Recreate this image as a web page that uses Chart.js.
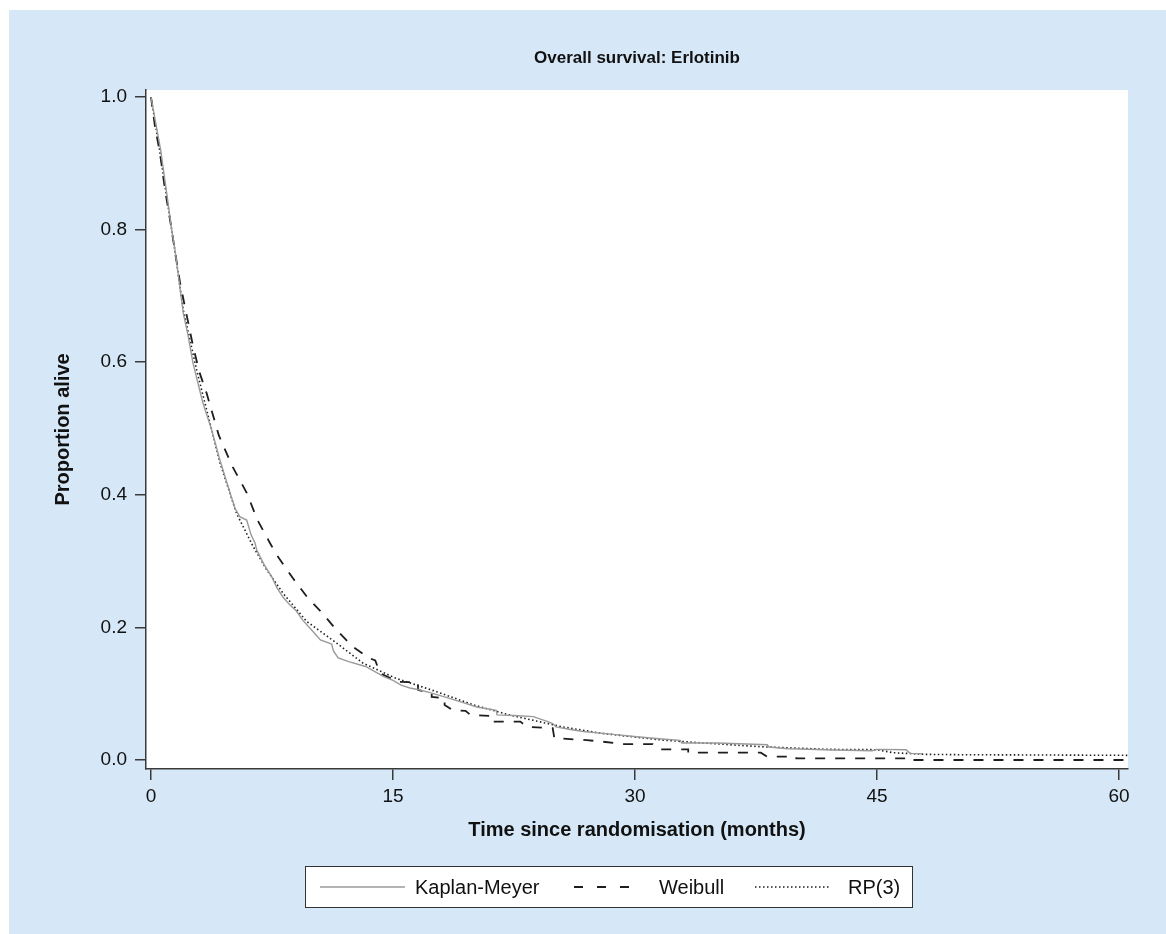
<!DOCTYPE html>
<html>
<head>
<meta charset="utf-8">
<script src="https://cdn.jsdelivr.net/npm/chart.js@4.4.1/dist/chart.umd.min.js"></script>
<style>
  html, body { margin: 0; padding: 0; background: #fff; }
  #wrap { width: 1166px; height: 934px; position: relative; }
</style>
</head>
<body>
<div id="wrap"><canvas id="c" width="1166" height="934"></canvas></div>
<script>
// values
const xTicks = [0, 15, 30, 45, 60];
const yTicks = [0, 0.2, 0.4, 0.6, 0.8, 1.0];

const kmTime = [0, 0.3, 0.6, 1.0, 1.28, 1.49, 2.0, 2.3, 2.6, 3.2, 3.76, 4.3, 4.9, 5.2, 5.5, 5.93, 6.2, 6.45, 6.55, 7.0, 7.48, 7.8, 8.2, 8.6, 9.0, 9.4, 10.0, 10.5, 11.2, 11.3, 11.6, 12.3, 13.3, 14.4, 15.0, 15.5, 16.05, 16.6, 17.3, 18.5, 19.3, 20.2, 21.4, 21.45, 22.5, 23.7, 24.6, 24.9, 25.1, 26.0, 26.8, 28.5, 30.1, 31.5, 32.8, 32.9, 35.1, 38.2, 38.3, 39.5, 40.2, 42.3, 44.7, 45.0, 46.8, 47.05, 47.8];
const kmSurv = [1.0, 0.96, 0.92, 0.85, 0.80, 0.769, 0.674, 0.64, 0.599, 0.54, 0.498, 0.45, 0.403, 0.38, 0.367, 0.362, 0.34, 0.327, 0.317, 0.295, 0.2765, 0.26, 0.245, 0.234, 0.225, 0.211, 0.195, 0.181, 0.175, 0.165, 0.154, 0.148, 0.141, 0.126, 0.12, 0.113, 0.1086, 0.106, 0.1015, 0.093, 0.087, 0.080, 0.075, 0.068, 0.067, 0.0654, 0.058, 0.055, 0.05, 0.046, 0.043, 0.039, 0.035, 0.032, 0.0296, 0.0256, 0.0256, 0.023, 0.0196, 0.017, 0.0165, 0.015, 0.014, 0.016, 0.0155, 0.010, 0.0095];

const wbTime = [0, 0.25, 0.56, 0.87, 1.18, 1.5, 1.8, 2.1, 2.6, 3.0, 3.45, 4.2, 5.0, 5.93, 6.6, 7.38, 7.8, 8.8, 9.7, 10.6, 11.5, 12.5, 13.5, 13.9, 14.2, 15.3, 16.55, 16.55, 17.4, 17.4, 18.2, 18.2, 18.7, 19.5, 19.8, 21.3, 21.3, 22.9, 23.3, 24.9, 25.0, 27.0, 28.0, 29.3, 31.1, 31.5, 33.3, 33.3, 37.8, 38.2, 40.0, 40.0, 46.9, 46.9, 60.5];
const wbSurv = [1.0, 0.955, 0.915, 0.86, 0.815, 0.765, 0.72, 0.684, 0.625, 0.585, 0.553, 0.49, 0.445, 0.403, 0.362, 0.327, 0.309, 0.274, 0.245, 0.222, 0.196, 0.171, 0.154, 0.15, 0.131, 0.118, 0.117, 0.106, 0.1, 0.095, 0.093, 0.083, 0.0754, 0.074, 0.068, 0.066, 0.0578, 0.0578, 0.05, 0.048, 0.033, 0.03, 0.0276, 0.024, 0.024, 0.016, 0.016, 0.011, 0.011, 0.005, 0.005, 0.0025, 0.0025, 0.0, 0.0];

const rpTime = [0, 0.5, 1.0, 1.5, 2.0, 2.83, 3.45, 4.28, 5.3, 6.33, 7.17, 8.2, 9.65, 11.3, 13.15, 15.2, 17.7, 20.0, 22.2, 25.5, 28.0, 31.7, 34.0, 37.8, 42.0, 45.0, 46.0, 48.0, 50.0, 60.6];
const rpSurv = [1.0, 0.925, 0.845, 0.765, 0.679, 0.588, 0.528, 0.448, 0.372, 0.322, 0.287, 0.251, 0.209, 0.18, 0.146, 0.123, 0.103, 0.083, 0.068, 0.05, 0.04, 0.03, 0.026, 0.02, 0.016, 0.0155, 0.011, 0.0085, 0.008, 0.007];

const seriesNames = ['Kaplan-Meyer', 'Weibull', 'RP(3)'];

const FONT = '"Liberation Sans", Arial, Helvetica, sans-serif';
const BG_BLUE = '#d6e8f7';
const AXIS = '#3a3a3a';

const pts = (xs, ys) => xs.map((x, i) => ({ x, y: ys[i] }));

const datasets = [
  { label: seriesNames[0], data: pts(kmTime, kmSurv), borderColor: '#9a9a9a', borderWidth: 1.4, borderDash: [] },
  { label: seriesNames[1], data: pts(wbTime, wbSurv), borderColor: '#1e1e1e', borderWidth: 1.8, borderDash: [10, 10] },
  { label: seriesNames[2], data: pts(rpTime, rpSurv), borderColor: '#1e1e1e', borderWidth: 1.6, borderDash: [1.5, 2.5] }
].map(d => Object.assign(d, { pointRadius: 0, fill: false, tension: 0 }));

// background: light blue panel with white plot region
const panelPlugin = {
  id: 'panel',
  beforeDraw(chart) {
    const { ctx, chartArea: a } = chart;
    ctx.save();
    ctx.fillStyle = '#fff';
    ctx.fillRect(0, 0, chart.width, chart.height);
    ctx.fillStyle = BG_BLUE;
    ctx.fillRect(9, 10, chart.width - 9, chart.height - 10);
    ctx.fillStyle = '#fff';
    ctx.fillRect(a.left, a.top, a.right - a.left, a.bottom - a.top);
    ctx.restore();
  }
};

// title, axis titles and the boxed legend
const textPlugin = {
  id: 'texts',
  afterDraw(chart) {
    const { ctx, chartArea: a } = chart;
    const cx = (a.left + a.right) / 2;
    ctx.save();
    ctx.fillStyle = '#111';
    ctx.textAlign = 'center';
    ctx.textBaseline = 'middle';
    ctx.font = 'bold 17px ' + FONT;
    ctx.fillText('Overall survival: Erlotinib', cx, 58);
    ctx.font = 'bold 20px ' + FONT;
    ctx.fillText('Time since randomisation (months)', cx, 830);
    ctx.save();
    ctx.translate(63, (a.top + a.bottom) / 2);
    ctx.rotate(-Math.PI / 2);
    ctx.fillText('Proportion alive', 0, 0);
    ctx.restore();

    // legend box
    ctx.fillStyle = '#fff';
    ctx.fillRect(305, 866, 608, 42);
    ctx.strokeStyle = '#333';
    ctx.lineWidth = 1;
    ctx.strokeRect(305.5, 866.5, 607, 41);
    const items = [
      { x0: 320, x1: 405, tx: 415 },
      { x0: 574, x1: 632, tx: 659 },
      { x0: 755, x1: 830, tx: 848 }
    ];
    ctx.font = '20px ' + FONT;
    ctx.textAlign = 'left';
    items.forEach((it, i) => {
      const ds = chart.data.datasets[i];
      ctx.beginPath();
      ctx.setLineDash(i === 1 ? [9, 14] : ds.borderDash);
      ctx.strokeStyle = ds.borderColor;
      ctx.lineWidth = ds.borderWidth;
      ctx.moveTo(it.x0, 887);
      ctx.lineTo(it.x1, 887);
      ctx.stroke();
      ctx.setLineDash([]);
      ctx.fillStyle = '#111';
      ctx.fillText(ds.label, it.tx, 888);
    });
    ctx.restore();
  }
};

const tickFont = { family: FONT, size: 19 };

new Chart(document.getElementById('c').getContext('2d'), {
  type: 'line',
  data: { datasets },
  options: {
    responsive: false,
    animation: false,
    parsing: false,
    layout: { padding: { left: 0, top: 90, right: 38, bottom: 0 } },
    plugins: { legend: { display: false }, title: { display: false }, tooltip: { enabled: false } },
    scales: {
      x: {
        type: 'linear',
        min: -0.31,
        max: 60.56,
        afterBuildTicks: s => { s.ticks = xTicks.map(v => ({ value: v })); },
        afterFit: s => { s.height = 165; },
        grid: { display: true, drawOnChartArea: false, drawTicks: true, tickLength: 11, color: AXIS, lineWidth: 1.5 },
        border: { display: true, color: AXIS, width: 1.5 },
        ticks: { color: '#111', font: tickFont, padding: 5, maxRotation: 0, callback: v => String(v) }
      },
      y: {
        type: 'linear',
        min: -0.0136,
        max: 1.0106,
        afterBuildTicks: s => { s.ticks = yTicks.map(v => ({ value: v })); },
        afterFit: s => { s.width = 146; },
        grid: { display: true, drawOnChartArea: false, drawTicks: true, tickLength: 11, color: AXIS, lineWidth: 1.5 },
        border: { display: true, color: AXIS, width: 1.5 },
        ticks: { color: '#111', font: tickFont, padding: 8, callback: v => v.toFixed(1) }
      }
    }
  },
  plugins: [panelPlugin, textPlugin]
});
</script>
</body>
</html>
